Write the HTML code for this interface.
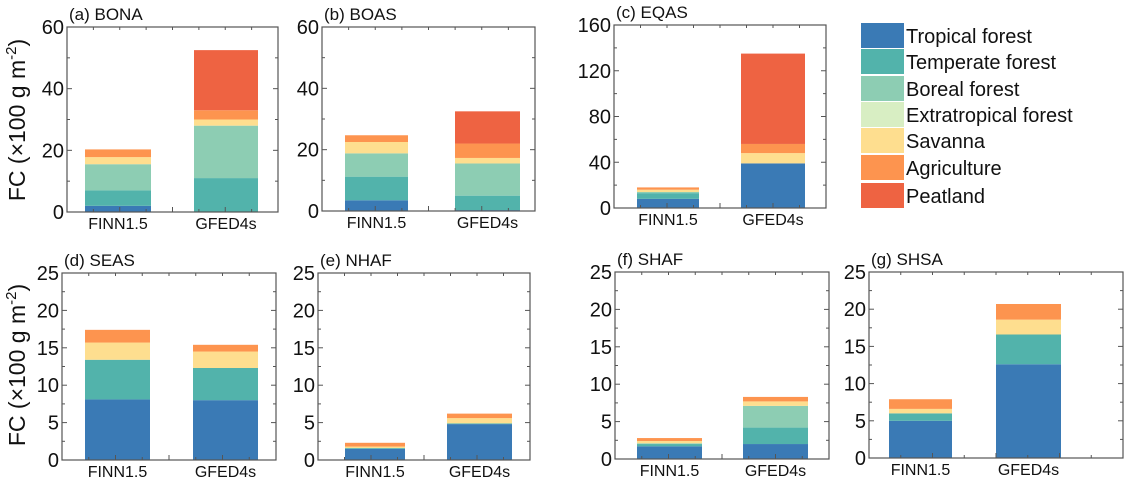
<!DOCTYPE html>
<html><head><meta charset="utf-8"><style>
body{margin:0;background:#fff}
svg{display:block;font-family:"Liberation Sans",Arial,sans-serif}
</style></head><body>
<svg id="c" width="1126" height="481" viewBox="0 0 1126 481"></svg>
<script>
const categories=["FINN1.5","GFED4s"];
const series=["Tropical forest","Temperate forest","Boreal forest","Extratropical forest","Savanna","Agriculture","Peatland"];
const colors=["#3a7ab5","#52b3ab","#8dcdb3","#d8eec3","#fede8f","#fd944f","#ee6342"];
// per-series values: [FINN, GFED]
const bonaVals=[[2,0],[5,11],[8.5,17],[0,0],[2.3,2],[2.5,3],[0,19.5]];
const boasVals=[[3.5,0.3],[7.7,4.7],[7.6,10.5],[0,0],[3.7,1.8],[2.2,4.7],[0,10.5]];
const eqasVals=[[8,39],[5,0],[1,0],[0,0],[2,9],[2,8],[0,79]];
const seasVals=[[8.1,8],[5.3,4.3],[0,0],[0,0],[2.3,2.2],[1.7,0.9],[0,0]];
const nhafVals=[[1.5,4.8],[0.1,0.1],[0,0],[0,0],[0.2,0.7],[0.5,0.6],[0,0]];
const shafVals=[[1.7,2],[0.3,2.2],[0.1,2.9],[0,0],[0.3,0.6],[0.4,0.6],[0,0]];
const shsaVals=[[5,12.6],[1,4],[0,0],[0,0],[0.6,2],[1.3,2.1],[0,0]];
const panelTitles=["(a) BONA","(b) BOAS","(c) EQAS","(d) SEAS","(e) NHAF","(f) SHAF","(g) SHSA"];
const yTicksTop=[0,20,40,60];
const yTicksEqas=[0,40,80,120,160];
const yTicksBottom=[0,5,10,15,20,25];

const panels=[
 {v:bonaVals,t:yTicksTop,x0:67,x1:278,y0:27,y1:212,b:[[85,151],[194,258]]},
 {v:boasVals,t:yTicksTop,x0:322,x1:535,y0:27,y1:211,b:[[345,408],[455,520]]},
 {v:eqasVals,t:yTicksEqas,x0:614,x1:826,y0:25,y1:208,b:[[637,699],[741,805]]},
 {v:seasVals,t:yTicksBottom,x0:62,x1:276,y0:273,y1:460,b:[[85,150],[193,258]]},
 {v:nhafVals,t:yTicksBottom,x0:318,x1:530,y0:273,y1:460,b:[[345,405],[447,512]]},
 {v:shafVals,t:yTicksBottom,x0:615,x1:829,y0:272,y1:459,b:[[637,702],[743,808]]},
 {v:shsaVals,t:yTicksBottom,x0:869,x1:1123,y0:272,y1:458,b:[[889,952],[996,1061]]}
];
const svg=document.getElementById('c');
const NS="http://www.w3.org/2000/svg";
function mk(tag,attrs,parent){const e=document.createElementNS(NS,tag);for(const k in attrs)e.setAttribute(k,attrs[k]);(parent||svg).appendChild(e);return e;}
panels.forEach((p,pi)=>{
 const g=mk('g',{});
 
 
 const max=p.t[p.t.length-1];
 const ys=v=>p.y1-(v/max)*(p.y1-p.y0);
 categories.forEach((c,ci)=>{
  let cum=0;
  series.forEach((s,si)=>{
   const val=p.v[si][ci]; if(val<=0)return;
   const r=mk('rect',{x:p.b[ci][0],y:ys(cum+val),width:p.b[ci][1]-p.b[ci][0],height:ys(cum)-ys(cum+val),fill:colors[si]},g);
   
   
   cum+=val;
  });
  const tl=mk('text',{x:(p.b[ci][0]+p.b[ci][1])/2,y:p.y1+17,'text-anchor':'middle','font-size':16,fill:'#111'},g);
  tl.textContent=c;
  
  
 });
 const fr=mk('rect',{x:p.x0,y:p.y0,width:p.x1-p.x0,height:p.y1-p.y0,fill:'none',stroke:'#555','stroke-width':1.2},g);
 
 
 const step=p.t[1]-p.t[0];
 for(let v=0;v<=max+1e-9;v+=step/2){
  const y=ys(v);const len=(Math.abs((v/step)-Math.round(v/step))<1e-6)?5:3;
  mk('line',{x1:p.x0,x2:p.x0+len,y1:y,y2:y,stroke:'#555'},g);
  mk('line',{x1:p.x1,x2:p.x1-len,y1:y,y2:y,stroke:'#555'},g);
 }
 for(let i=1;i<8;i++){const x=p.x0+(p.x1-p.x0)*i/8;mk('line',{x1:x,x2:x,y1:p.y0,y2:p.y0+3,stroke:'#555'},g);mk('line',{x1:x,x2:x,y1:p.y1,y2:p.y1-(i%2?3:5),stroke:'#555'},g);}
 p.t.forEach(v=>{
  const t=mk('text',{x:p.x0-3,y:ys(v)+7,'text-anchor':'end','font-size':20,fill:'#111'},g);
  t.textContent=v;
  
  
 });
 const ti=mk('text',{x:p.x0+2,y:p.y0-7,'font-size':17,fill:'#111'},g);
 ti.textContent=panelTitles[pi];
 
 
});
[[120],[365]].forEach((a,i)=>{
 const t=mk('text',{x:0,y:0,transform:`translate(25,${a[0]}) rotate(-90)`,'text-anchor':'middle','font-size':23,fill:'#111'});
 t.innerHTML='FC (×100 g m<tspan dy="-9" font-size="15">-2</tspan><tspan dy="9">)</tspan>';
 
 
});
const lg=mk('g',{});


const rowsY=[23,49,76,102,128,155,183];
series.forEach((s,i)=>{
 const e=mk('g',{},lg);
 
 
 mk('rect',{x:861,y:rowsY[i],width:43,height:25,fill:colors[i]},e);
 const t=mk('text',{x:906,y:rowsY[i]+20,'font-size':20,fill:'#111'},e);
 t.textContent=s;
});
</script>
</body></html>
